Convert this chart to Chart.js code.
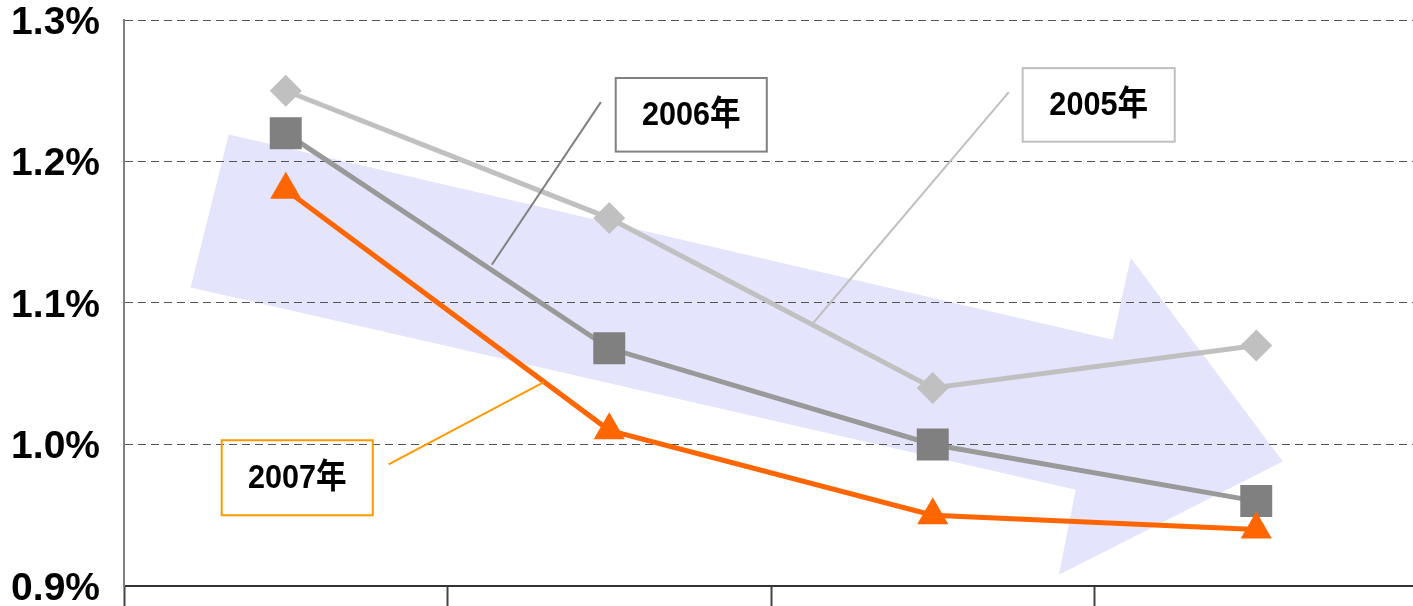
<!DOCTYPE html>
<html>
<head>
<meta charset="utf-8">
<script src="https://cdn.jsdelivr.net/npm/chart.js@4/dist/chart.umd.min.js"></script>
<style>
  html, body { margin: 0; padding: 0; background: #fff; overflow: hidden; }
  #wrap { width: 1418px; height: 606px; }
</style>
</head>
<body>
<div id="wrap"><canvas id="chart" width="1418" height="606"></canvas></div>
<script>
// four periods, labels sit below the visible strip
const categories = ['', '', '', ''];
const yearLabels = ['2005年', '2006年', '2007年'];
const values2005 = [1.25, 1.16, 1.04, 1.07];
const values2006 = [1.22, 1.068, 1.00, 0.96];
const values2007 = [1.18, 1.01, 0.95, 0.94];
const yTicks = [0.9, 1.0, 1.1, 1.2, 1.3];

// big downward trend arrow, in (category index, value) units
const trendArrow = [
  [-0.176, 1.219], [2.556, 1.074], [2.612, 1.132], [3.082, 0.988],
  [2.390, 0.908], [2.442, 0.968], [-0.294, 1.111]
];

// year callouts: box corners and leader line, in (category index, value) units
const callouts = [
  { text: yearLabels[1], color: '#808080', box: [1.020, 1.259, 1.487, 1.207], leader: [0.974, 1.242, 0.637, 1.127] },
  { text: yearLabels[0], color: '#c0c0c0', box: [2.278, 1.266, 2.748, 1.214], leader: [2.235, 1.249, 1.629, 1.0855] },
  { text: yearLabels[2], color: '#ff9900', box: [-0.198, 1.003, 0.269, 0.950], leader: [0.318, 0.986, 0.798, 1.044] }
];

const arrowPlugin = {
  id: 'trendArrow',
  beforeDraw(chart) {
    const { ctx, scales: { x, y } } = chart;
    ctx.save();
    ctx.beginPath();
    trendArrow.forEach(([cx, cy], i) => {
      const px = x.getPixelForValue(cx), py = y.getPixelForValue(cy);
      if (i === 0) ctx.moveTo(px, py); else ctx.lineTo(px, py);
    });
    ctx.closePath();
    ctx.fillStyle = '#e4e4fc';
    ctx.fill();
    ctx.restore();
  }
};

const calloutPlugin = {
  id: 'callouts',
  afterDatasetsDraw(chart) {
    const { ctx, scales: { x, y } } = chart;
    ctx.save();
    callouts.forEach(c => {
      const [lx1, ly1, lx2, ly2] = c.leader;
      ctx.beginPath();
      ctx.moveTo(x.getPixelForValue(lx1), y.getPixelForValue(ly1));
      ctx.lineTo(x.getPixelForValue(lx2), y.getPixelForValue(ly2));
      ctx.strokeStyle = c.color;
      ctx.lineWidth = 2;
      ctx.stroke();

      const [bx1, by1, bx2, by2] = c.box;
      const left = x.getPixelForValue(bx1), right = x.getPixelForValue(bx2);
      const top = y.getPixelForValue(by1), bottom = y.getPixelForValue(by2);
      ctx.strokeRect(left, top, right - left, bottom - top);

      // slightly narrowed bold text
      ctx.save();
      ctx.translate((left + right) / 2, (top + bottom) / 2 + 1);
      ctx.scale(0.9, 1);
      ctx.fillStyle = '#000';
      ctx.font = 'bold 34px "Liberation Sans", "Noto Sans CJK SC", sans-serif';
      ctx.textAlign = 'center';
      ctx.textBaseline = 'middle';
      ctx.fillText(c.text, 0, 0);
      ctx.restore();
    });
    ctx.restore();
  }
};

new Chart(document.getElementById('chart'), {
  type: 'line',
  data: {
    labels: categories,
    datasets: [
      {
        label: yearLabels[2], data: values2007, order: 1,
        borderColor: '#ff6600', backgroundColor: '#ff6600', borderWidth: 5,
        pointStyle: 'triangle', pointRadius: 18, pointBorderWidth: 0
      },
      {
        label: yearLabels[1], data: values2006, order: 2,
        borderColor: '#999999', backgroundColor: '#808080', borderWidth: 5,
        pointStyle: 'rect', pointRadius: 22.6, pointBorderWidth: 0
      },
      {
        label: yearLabels[0], data: values2005, order: 3,
        borderColor: '#c0c0c0', backgroundColor: '#c0c0c0', borderWidth: 5,
        pointStyle: 'rectRot', pointRadius: 16, pointBorderWidth: 0
      }
    ]
  },
  options: {
    responsive: false,
    animation: false,
    events: [],
    layout: { autoPadding: false, padding: { top: 20, right: 0, bottom: 0, left: 0 } },
    plugins: { legend: { display: false }, tooltip: { enabled: false } },
    scales: {
      x: {
        offset: true,
        grid: {
          offset: true, drawOnChartArea: false, drawTicks: true,
          tickLength: 20, tickWidth: 2, tickColor: '#444'
        },
        border: { display: true, color: '#333', width: 2 },
        ticks: { display: false }
      },
      y: {
        min: 0.9, max: 1.3,
        afterBuildTicks(scale) { scale.ticks = yTicks.map(v => ({ value: v })); },
        afterFit(scale) {
          scale.width = 124;
          // labels may overflow the plot top/bottom
          scale.paddingTop = 0;
          scale.paddingBottom = 0;
        },
        grid: { color: '#555', lineWidth: 1, drawTicks: false },
        border: { display: true, color: '#808080', width: 2, dash: [8, 5] },
        ticks: {
          padding: 24,
          labelOffset: 3,
          color: '#000',
          font: { family: '"Liberation Sans", Arial, sans-serif', size: 39, weight: 'bold', lineHeight: 1.0 },
          callback: v => v.toFixed(1) + '%'
        }
      }
    }
  },
  plugins: [arrowPlugin, calloutPlugin]
});
</script>
</body>
</html>
